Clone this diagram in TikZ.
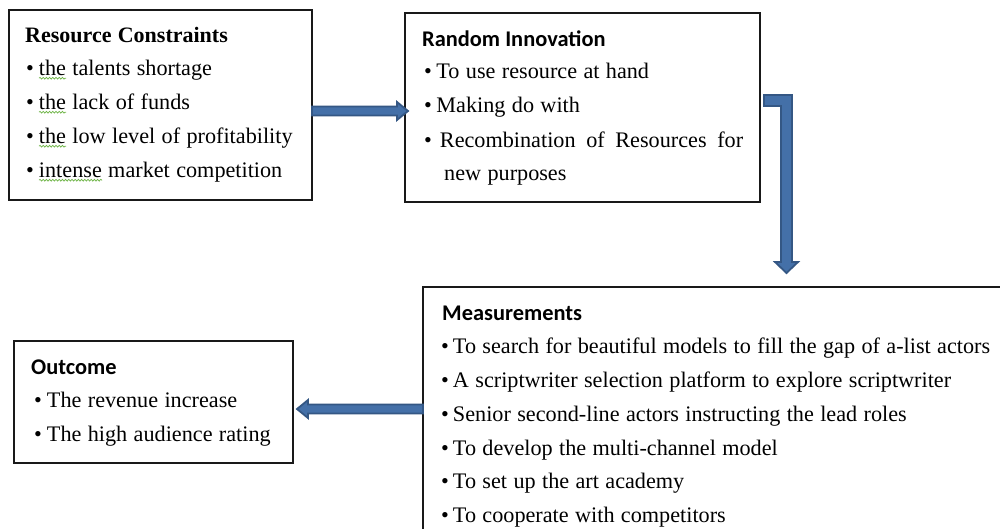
\documentclass[tikz,border=0pt]{standalone}
\usepackage{fontspec}
\setmainfont[WordSpace=1.15]{Liberation Serif}
\newfontfamily\headfont{Carlito}
\usetikzlibrary{calc,decorations.pathmorphing}
\definecolor{arrowfill}{RGB}{68,112,168}
\definecolor{arrowline}{RGB}{52,87,132}
\definecolor{wavegreen}{RGB}{110,180,70}
\definecolor{boxline}{RGB}{25,25,25}
\tikzset{
  box/.style={draw=boxline, line width=1.4pt, inner sep=0pt, outer sep=0pt, anchor=north west},
  txt/.style={anchor=base west, inner sep=0pt, font=\fontsize{22.2}{26}\selectfont},
  hdsans/.style={anchor=base west, inner sep=0pt, font=\headfont\bfseries\fontsize{22.4}{26}\selectfont},
  hdserif/.style={anchor=base west, inner sep=0pt, font=\bfseries\fontsize{22}{26}\selectfont},
  wave/.style={draw=wavegreen, line width=0.7pt, decorate, decoration={snake, amplitude=0.9pt, segment length=3.2pt}},
  blk/.style={fill=arrowfill, draw=arrowline, line width=1.8pt, line join=miter},
  hblock/.style={to path={let \p1=(\tikztostart),\p2=(\tikztotarget),\n1={((\x2>\x1)*2-1)*11} in
    ({\x1},{\y1+4.5pt}) -- ({\x2-\n1*1pt},{\y1+4.5pt}) -- ({\x2-\n1*1pt},{\y1+9pt}) -- (\x2,\y1)
    -- ({\x2-\n1*1pt},{\y1-9pt}) -- ({\x2-\n1*1pt},{\y1-4.5pt}) -- ({\x1},{\y1-4.5pt}) -- cycle}},
  bblock/.style={to path={let \p1=(\tikztostart),\p2=(\tikztotarget) in
    ({\x1},{\y1+5.5pt}) -- ({\x2+5.5pt},{\y1+5.5pt}) -- ({\x2+5.5pt},{\y2+11pt}) -- ({\x2+11.5pt},{\y2+11pt})
    -- (\x2,\y2) -- ({\x2-11.5pt},{\y2+11pt}) -- ({\x2-5.5pt},{\y2+11pt}) -- ({\x2-5.5pt},{\y1-5.5pt})
    -- ({\x1},{\y1-5.5pt}) -- cycle}}
}
\begin{document}
\begin{tikzpicture}[x=1pt,y=-1pt]
\path[use as bounding box] (0,0) rectangle (1000,528);
\clip (0,0) rectangle (1000,528);
\fill[white] (0,0) rectangle (1000,528);

% boxes
\node[box, minimum width=303pt, minimum height=190pt] (b1) at (9,10) {};
\node[box, minimum width=355pt, minimum height=189pt] (b2) at (405,13) {};
\node[box, minimum width=600pt, minimum height=260pt] (b3) at (423,287) {};
\node[box, minimum width=279pt, minimum height=122pt] (b4) at (14,341) {};

% box 1 text
\node[hdserif] (t1h) at (25,42) {Resource Constraints};
\node[txt] (t1a) at (26,75) {•\hspace{5pt}the talents shortage};
\node[txt] (t1b) at (26,109) {•\hspace{5pt}the lack of funds};
\node[txt] (t1c) at (26,143) {•\hspace{5pt}the low level of profitability};
\node[txt] (t1d) at (26,177) {•\hspace{5pt}intense market competition};
\draw[wave] ($(t1a.base west)+(13,3.2)$) -- ++(27,0);
\draw[wave] ($(t1b.base west)+(13,3.2)$) -- ++(27,0);
\draw[wave] ($(t1c.base west)+(13,3.2)$) -- ++(27,0);
\draw[wave] ($(t1d.base west)+(13,3.2)$) -- ++(63,0);

% box 2 text
\node[hdsans] (t2h) at (422,46) {Random Innovation};
\node[txt] (t2a) at (424,78) {•\hspace{4.5pt}To use resource at hand};
\node[txt] (t2b) at (424,112) {•\hspace{4.5pt}Making do with};
\node[txt] (t2c) at (424,147) {\hbox to 319pt{•\hspace{8pt}Recombination\hfill of\hfill Resources\hfill for}};
\node[txt] (t2d) at (444,180) {new purposes};

% box 3 text
\node[hdsans] (t3h) at (442,320) {Measurements};
\node[txt] (t3a) at (441,353) {•\hspace{4pt}To search for beautiful models to fill the gap of a-list actors};
\node[txt] (t3b) at (441,387) {•\hspace{4pt}A scriptwriter selection platform to explore scriptwriter};
\node[txt] (t3c) at (441,421) {•\hspace{4pt}Senior second-line actors instructing the lead roles};
\node[txt] (t3d) at (441,455) {•\hspace{4pt}To develop the multi-channel model};
\node[txt] (t3e) at (441,488) {•\hspace{4pt}To set up the art academy};
\node[txt] (t3f) at (441,522) {•\hspace{4pt}To cooperate with competitors};

% box 4 text
\node[hdsans] (t4h) at (31,374) {Outcome};
\node[txt] (t4a) at (34,407) {•\hspace{5pt}The revenue increase};
\node[txt] (t4b) at (34,441) {•\hspace{5pt}The high audience rating};

% connector end points
\coordinate (a1s) at ($(b1.east)+(0,6)$);
\coordinate (a1e) at ($(b2.west)+(3,3.5)$);
\coordinate (a2s) at ($(b2.east)+(4,-7)$);
\coordinate (a2e) at ($(b3.north west)+(363.5,-14)$);
\coordinate (a3s) at ($(b3.north west)+(0,122)$);
\coordinate (a3e) at ($(b4.east)+(4,7)$);

% block arrows
\draw[blk] (a1s) to[hblock] (a1e);
\draw[blk] (a2s) to[bblock] (a2e);
\draw[blk] (a3s) to[hblock] (a3e);
\end{tikzpicture}
\end{document}
